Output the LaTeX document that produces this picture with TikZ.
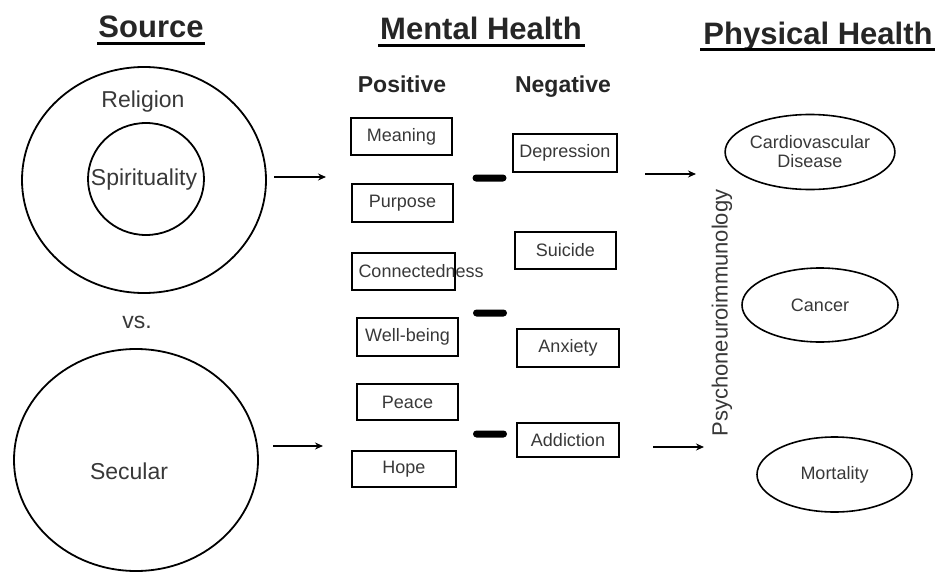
\documentclass[tikz,border=0pt]{standalone}
\usepackage{fontspec}
\setmainfont{Liberation Sans}
\usetikzlibrary{arrows.meta,shapes.geometric}
\definecolor{txt}{gray}{0.22}
\begin{document}
\begin{tikzpicture}[x=1pt,y=-1pt,
  title/.style={font=\fontsize{31}{34}\selectfont\bfseries, text=black!85, anchor=base, inner sep=0},
  head/.style={font=\fontsize{23}{26}\selectfont\bfseries, text=black!85, anchor=base, inner sep=0},
  big/.style={font=\fontsize{23}{26}\selectfont, text=txt, anchor=base, inner sep=0},
  boxtxt/.style={font=\fontsize{18}{20}\selectfont, text=txt},
  posbox/.style={draw, line width=2.8pt, rectangle, inner sep=0, boxtxt},
  circ/.style={draw, line width=1.8pt, ellipse, inner sep=0},
  oval/.style={draw, line width=1.6pt, ellipse, inner sep=0, boxtxt, align=center},
  minus/.style={fill=black, rectangle, rounded corners=3.5pt, minimum width=34pt, minimum height=7pt, inner sep=0},
  arr/.style={line width=1.8pt, -{Stealth[length=8pt,width=7pt]}},
  uline/.style={line width=3pt}
]
\useasboundingbox (0,0) rectangle (938,573);

% titles
\node[title] (tsrc) at (151,37) {Source};
\node[title] (tmen) at (481,39) {Mental Health};
\node[title] (tphy) at (818,44) {Physical Health};
\draw[uline] (97,43) -- (205,43);
\draw[uline] (378,45) -- (585,45);
\draw[uline] (700,49) -- (935,49);

% source
\node[circ, minimum width=244pt, minimum height=226pt] (rel) at (144,180) {};
\node[circ, minimum width=116pt, minimum height=112pt] (spi) at (146,179) {};
\node[big] (reltxt) at (143,107) {Religion};
\node[big] (spitxt) at (144,185) {Spirituality};
\node[big] (vs) at (137,328) {vs.};
\node[circ, minimum width=244pt, minimum height=222pt] (sec) at (136,460) {};
\node[big] (sectxt) at (129,479) {Secular};

% mental health headings
\node[head] (pos) at (402,92) {Positive};
\node[head] (neg) at (563,92) {Negative};

% positive boxes
\node[posbox, minimum width=101pt, minimum height=37pt] (mea) at (401.5,136.5) {Meaning};
\node[posbox, minimum width=101pt, minimum height=38pt] (pur) at (402.5,203) {Purpose};
\node[posbox, minimum width=103pt, minimum height=37pt] (con) at (403.5,271.5) {\makebox[0pt][l]{\hspace{-45pt}Connectedness}};
\node[posbox, minimum width=101pt, minimum height=38pt] (wel) at (407.5,337) {Well-being};
\node[posbox, minimum width=101pt, minimum height=36pt] (pea) at (407.5,402) {Peace};
\node[posbox, minimum width=104pt, minimum height=36pt] (hop) at (404,469) {Hope};

% negative boxes
\node[posbox, minimum width=104pt, minimum height=38pt] (dep) at (565,153) {Depression};
\node[draw, line width=1.6pt, rectangle, inner sep=0, boxtxt, minimum width=101pt, minimum height=37pt] (sui) at (565.5,250.5) {Suicide};
\node[posbox, minimum width=102pt, minimum height=38pt] (anx) at (568,348) {Anxiety};
\node[posbox, minimum width=102pt, minimum height=34pt] (add) at (568,440) {Addiction};

% minus bars
\node[minus] (m1) at (489.5,178) {};
\node[minus] (m2) at (490,313) {};
\node[minus] (m3) at (490,434) {};

% physical health
\node[oval, minimum width=156pt, minimum height=75pt] (car) at (810,152) {Cardiovascular\\[-1pt]Disease};
\node[oval, minimum width=156pt, minimum height=74pt] (can) at (820,305) {Cancer};
\node[oval, minimum width=155pt, minimum height=75pt] (mor) at (834.5,474.5) {Mortality};
\node[font=\fontsize{22}{24}\selectfont, text=txt, rotate=90, inner sep=0] (pni) at (722,313) {Psychoneuroimmunology};

% arrows
\coordinate (a1s) at (274,177); \coordinate (a1e) at (326,177);
\coordinate (a2s) at (273,446); \coordinate (a2e) at (323,446);
\coordinate (a3s) at (645,174); \coordinate (a3e) at (696,174);
\coordinate (a4s) at (653,447); \coordinate (a4e) at (704,447);
\draw[arr] (a1s) -- (a1e);
\draw[arr] (a2s) -- (a2e);
\draw[arr] (a3s) -- (a3e);
\draw[arr] (a4s) -- (a4e);
\end{tikzpicture}
\end{document}
